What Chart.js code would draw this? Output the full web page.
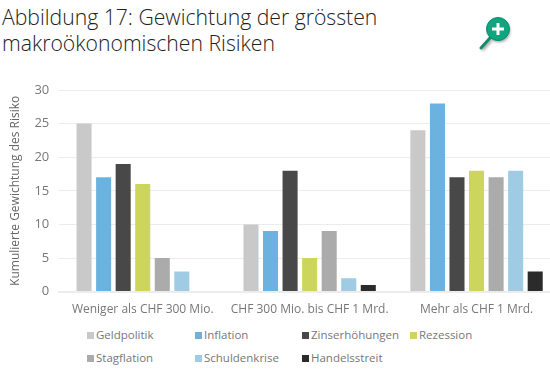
<!DOCTYPE html>
<html><head><meta charset="utf-8">
<style>
html,body{margin:0;padding:0;background:#fff;width:550px;height:370px;overflow:hidden;font-family:"Open Sans",sans-serif}
#wrap{position:relative;width:550px;height:370px;overflow:hidden}
#title{position:absolute;left:2px;top:4px;font-size:21.2px;font-weight:300;line-height:26px;color:#222;white-space:nowrap}
#c{position:absolute;left:0;top:71px}
#legend{position:absolute;left:0;top:0}
.li{position:absolute;font-size:11.5px;color:#777;white-space:nowrap;line-height:16px}
.li i{position:absolute;left:-9px;top:5px;width:7px;height:7px}
#icon{position:absolute;left:478px;top:15px}
</style></head><body>
<div id="wrap">
<div id="title">Abbildung 17: Gewichtung der grössten<br>makroökonomischen Risiken</div>
<svg id="icon" width="36" height="38" viewBox="0 0 36 38">
<defs><filter id="s"><feGaussianBlur stdDeviation="1.4"/></filter></defs>
<g filter="url(#s)" opacity=".4" transform="translate(1,2)"><circle cx="20" cy="14" r="11"/><line x1="3" y1="33" x2="12" y2="23" stroke="#000" stroke-width="3"/></g>
<line x1="3" y1="33" x2="12" y2="23" stroke="#138a6c" stroke-width="3" stroke-linecap="round"/>
<circle cx="20" cy="14" r="11.5" fill="#0fa57f" stroke="#0e8a6b" stroke-width="1"/>
<path d="M20 8v12M14 14h12" stroke="#fff" stroke-width="3"/>
</svg>
<canvas id="c" width="560" height="249"></canvas>
<div id="legend"></div>
</div>
<script src="https://cdn.jsdelivr.net/npm/chart.js@4/dist/chart.umd.min.js"></script>
<script>
const categories=["Weniger als CHF 300 Mio.","CHF 300 Mio. bis CHF 1 Mrd.","Mehr als CHF 1 Mrd."];
const seriesNames=["Geldpolitik","Inflation","Zinserhöhungen","Rezession","Stagflation","Schuldenkrise","Handelsstreit"];
const seriesColors=["#c9c9c9","#6bb3de","#484848","#cdd65c","#ababab","#9fcbe5","#2b2b2b"];
const geldpolitik=[25,10,24];
const inflation=[17,9,28];
const zinserhoehungen=[19,18,17];
const rezession=[16,5,18];
const stagflation=[5,9,17];
const schuldenkrise=[3,2,18];
const handelsstreit=[0,1,3];
const values=[geldpolitik,inflation,zinserhoehungen,rezession,stagflation,schuldenkrise,handelsstreit];
const legendX=[96,204,311,419];
const legendY=[335,358];
seriesNames.forEach((n,i)=>{
  const d=document.createElement('div');d.className='li';
  d.style.left=legendX[i<4?i:i-4]+'px';d.style.top=(legendY[i<4?0:1]-8)+'px';
  d.innerHTML='<i style="background:'+seriesColors[i]+'"></i>'+n;
  document.getElementById('legend').appendChild(d);
});
Chart.defaults.font.family='"Open Sans",sans-serif';
new Chart(document.getElementById('c'),{
  type:'bar',
  data:{labels:categories,datasets:seriesNames.map((n,i)=>({label:n,data:values[i],backgroundColor:seriesColors[i],borderWidth:0,barPercentage:.77,categoryPercentage:.82}))},
  options:{responsive:false,animation:false,
    layout:{padding:{left:8,right:0,top:19,bottom:0}},
    plugins:{legend:{display:false},tooltip:{enabled:false}},
    scales:{
      x:{grid:{display:false},border:{color:'#ececec',width:2},ticks:{autoSkip:false,color:'#777',font:{size:12},padding:3,maxRotation:0}},
      y:{min:0,max:30,ticks:{stepSize:5,color:'#777',font:{size:13},padding:10},grid:{color:'#ececec',tickLength:0},border:{display:false},
        title:{display:true,text:'Kumulierte Gewichtung des Risiko',color:'#666',font:{size:12},padding:{top:0,bottom:2}}}
    }}
});
</script>
</body></html>
